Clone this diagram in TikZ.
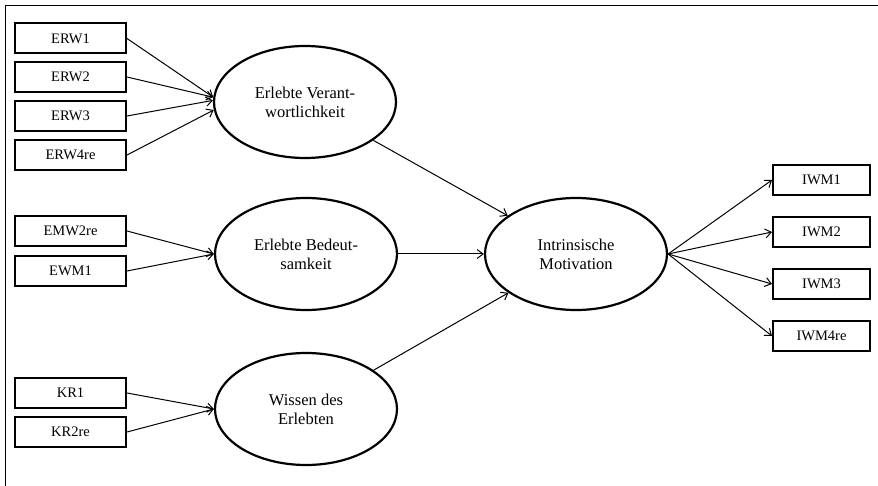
\documentclass[tikz,border=0pt]{standalone}
\usepackage{fontspec}
\setmainfont{Liberation Serif}
\usetikzlibrary{shapes.geometric,arrows.meta}
\begin{document}
\begin{tikzpicture}[x=1pt, y=-1pt,
      item/.style={draw, line width=2pt, minimum width=111pt, minimum height=30pt,
         inner sep=0pt, font=\fontsize{14.5}{17}\selectfont},
      factor/.style={draw, ellipse, line width=2.2pt, minimum width=182pt, minimum height=112pt,
         inner sep=0pt, align=center, font=\fontsize{16.5}{19}\selectfont},
      link/.style={line width=1pt, -{Straight Barb[length=6pt, width=9pt]}}]
   \useasboundingbox (0, 0) rectangle (878, 486);
   \draw[line width=1pt] (5, 486) -- (5, 6) -- (878, 6);
   \begin{scope}
      \node[factor] (verant) at (305, 102) {Erlebte Verant-\\wortlichkeit};
      \node[factor] (bedeut) at (306, 254) {Erlebte Bedeut-\\samkeit};
      \node[factor] (wissen) at (306, 409) {Wissen des\\Erlebten};
      \node[factor] (motiv) at (576, 254) {Intrinsische\\Motivation};
   \end{scope}
   \begin{scope}
      \foreach \n/\y in {ERW1/38.5, ERW2/77, ERW3/116, ERW4re/155,
            EMW2re/231, EWM1/271, KR1/393, KR2re/432} {
         \node[item] (\n) at (70.5, \y) {\n};
      }
      \foreach \n/\y in {IWM1/180, IWM2/232, IWM3/284, IWM4re/336} {
         \node[item, minimum width=97pt] (\n) at (821.5, \y) {\n};
      }
   \end{scope}
   \foreach \n/\a in {ERW1/177, ERW2/177, ERW3/179, ERW4re/185} {
      \draw[link] (\n.east) -- (verant.\a);
   }
   \foreach \n in {EMW2re, EWM1} {
      \draw[link] (\n.east) -- (bedeut.west);
   }
   \foreach \n in {KR1, KR2re} {
      \draw[link] (\n.east) -- (wissen.west);
   }
   \draw[link] (verant) -- (motiv);
   \draw[link] (bedeut) -- (motiv);
   \draw[link] (wissen) -- (motiv);
   \foreach \n in {IWM1, IWM2, IWM3, IWM4re} {
      \draw[link] (motiv.east) -- (\n.west);
   }
\end{tikzpicture}
\end{document}
